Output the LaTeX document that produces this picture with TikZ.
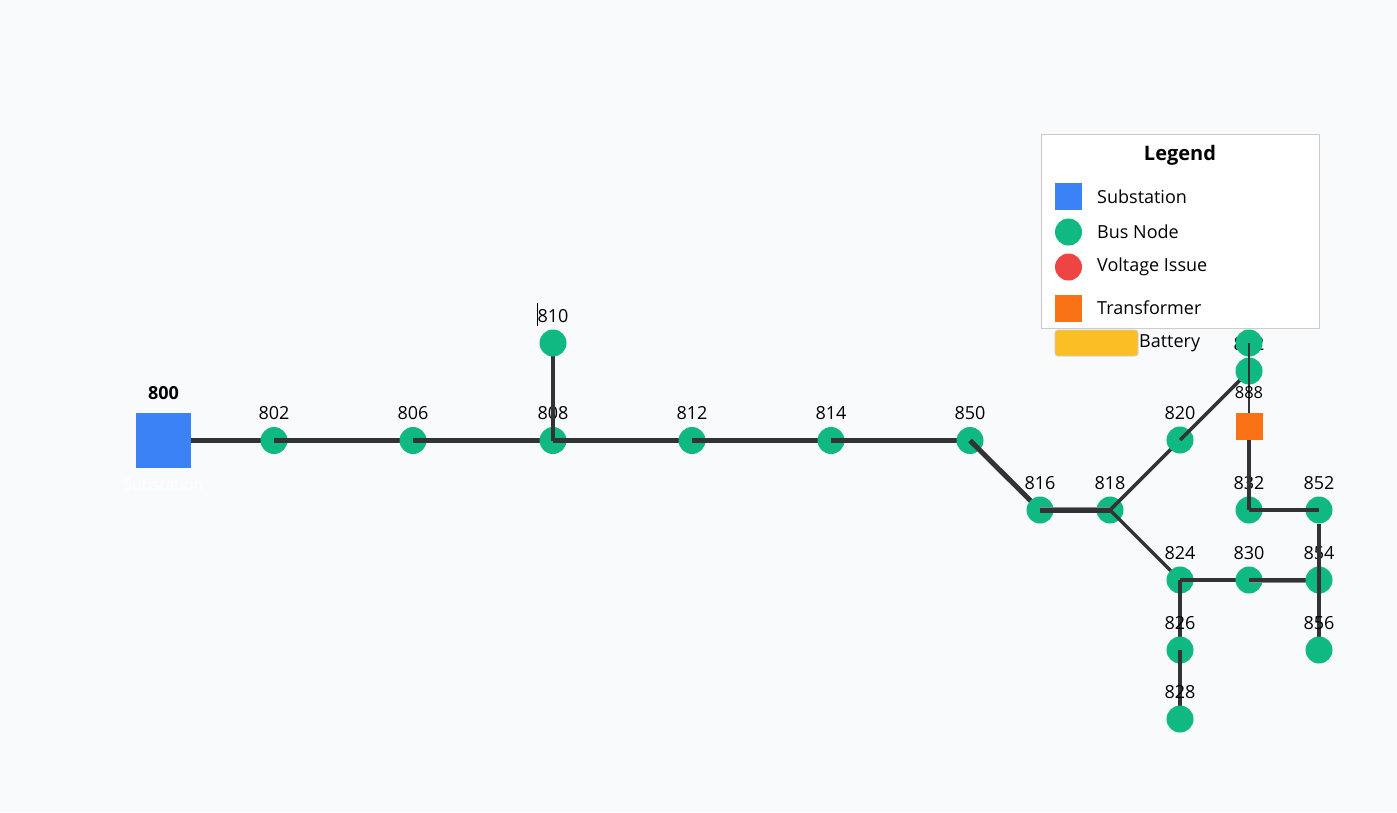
\documentclass[tikz,border=0pt]{standalone}
\usepackage{fontspec}
\setmainfont{Open Sans}
\definecolor{bg}{HTML}{F8FAFC}
\definecolor{subblue}{HTML}{3B82F6}
\definecolor{busgreen}{HTML}{10B981}
\definecolor{issuered}{HTML}{EF4444}
\definecolor{xfmrorange}{HTML}{F97316}
\definecolor{battyellow}{HTML}{FBBF24}
\definecolor{linedark}{HTML}{333333}
\definecolor{shadowgray}{HTML}{8A8A8A}
\definecolor{legborder}{HTML}{CCCCCC}
\tikzset{
  bus/.style={circle, fill=busgreen, minimum size=27pt, inner sep=0pt},
  sqnode/.style={rectangle, inner sep=0pt, minimum size=#1},
  lbl/.style={font=\fontsize{18}{18}\selectfont, text=black, inner sep=0pt},
  leglbl/.style={font=\fontsize{18}{18}\selectfont, text=black, inner sep=0pt, anchor=west},
  edge/.style={draw=linedark, line width=3.5pt},
  mainedge/.style={draw=linedark, line width=5pt},
  thinedge/.style={draw=linedark, line width=2.5pt},
  shadowedge/.style={draw=shadowgray, line width=6.5pt},
}
\begin{document}
\begin{tikzpicture}[x=1pt,y=-1pt]
\fill[bg] (0,0) rectangle (1397,812);
\useasboundingbox (0,0) rectangle (1397,812);

% ---------- legend ----------
\node[draw=legborder, fill=white, line width=1pt, minimum width=278pt, minimum height=194pt, inner sep=0pt, anchor=north west] (legend) at (1041,134) {};
\node[font=\bfseries\fontsize{20}{20}\selectfont, inner sep=0pt] (legtitle) at (1180,155) {Legend};
\node[sqnode=27pt, fill=subblue] (lsub) at (1068.5,196.5) {};
\node[leglbl] (lsubt) at (1097,197) {Substation};
\node[bus] (lbus) at (1068.5,232) {};
\node[leglbl] (lbust) at (1097,232) {Bus Node};
\node[circle, fill=issuered, minimum size=27pt, inner sep=0pt] (liss) at (1068.5,267) {};
\node[leglbl] (lisst) at (1097,267) {Voltage Issue};
\node[sqnode=27pt, fill=xfmrorange] (lxf) at (1068.5,308) {};
\node[leglbl] (lxft) at (1097,308) {Transformer};
\node[rectangle, rounded corners=3pt, draw=legborder, line width=0.8pt, fill=battyellow, minimum width=83pt, minimum height=26pt, inner sep=0pt] (lbat) at (1096.5,343) {};
\node[leglbl] (lbatt) at (1139,343) {Battery};

% ---------- network ----------
\node[sqnode=55pt, fill=subblue] (n800) at (163.5,440.5) {};
\node[font=\bfseries\fontsize{18}{18}\selectfont, inner sep=0pt] (l800) at (163.5,393) {800};
\node[font=\fontsize{16}{16}\selectfont, text=white, inner sep=0pt] (s800) at (163.5,484) {Substation};

\draw[mainedge] (n800.east) -- (274,440.5) coordinate (c802);
\node[bus] (n802) at (c802) {};
\node[lbl] at (274,413) {802};
\draw[mainedge] (n802.center) -- (413,440.5) coordinate (c806);
\node[bus] (n806) at (c806) {};
\node[lbl] at (413,413) {806};
\draw[mainedge] (n806.center) -- (553,440.5) coordinate (c808);
\node[bus] (n808) at (c808) {};
\node[lbl] at (553,413) {808};
\coordinate (c810) at (553,343);
\coordinate (c812) at (692,440.5);
\draw[edge] (n808.center) -- (c810);
\draw[mainedge] (n808.center) -- (c812);
\node[bus] (n810) at (c810) {};
\node[lbl] (l810) at (553,316) {810};
\coordinate (cur1) at (537,303);
\coordinate (cur2) at (537,326);
\draw[line width=1pt, black] (cur1) -- (cur2);
\node[bus] (n812) at (c812) {};
\node[lbl] at (692,413) {812};
\draw[mainedge] (n812.center) -- (831,440.5) coordinate (c814);
\node[bus] (n814) at (c814) {};
\node[lbl] at (831,413) {814};
\draw[mainedge] (n814.center) -- (970,440.5) coordinate (c850);
\node[bus] (n850) at (c850) {};
\node[lbl] at (970,413) {850};
\draw[mainedge] (n850.center) -- (1040,510) coordinate (c816);
\node[bus] (n816) at (c816) {};
\node[lbl] at (1040,483) {816};
\node[bus] (n818) at (1110,510) {};
\node[lbl] at (1110,483) {818};
\draw[shadowedge] (n816.center) -- (n818.center);
\draw[mainedge] (n816.center) -- (n818.center);
\coordinate (c820) at (1180,440);
\coordinate (c824) at (1180,580);
\draw[edge] (n818.center) -- (c820);
\draw[edge] (n818.center) -- (c824);
\node[bus] (n820) at (c820) {};
\node[lbl] at (1180,413) {820};
\draw[edge] (n820.center) -- (1249,371) coordinate (c822);
\node[bus] (n824) at (c824) {};
\node[lbl] at (1180,553) {824};
\coordinate (c830) at (1249,580);
\coordinate (c826) at (1180,650);
\draw[edge] (n824.center) -- (c830);
\draw[edge] (n824.center) -- (c826);
\node[bus] (n830) at (c830) {};
\node[lbl] at (1249,553) {830};
\draw[shadowedge, line width=5pt] (n830.center) -- (1306,580) coordinate (c854w);
\draw[edge] (n830.center) -- (c854w);
\node[bus] (n826) at (c826) {};
\node[lbl] at (1180,623) {826};
\draw[edge] (n826.center) -- (1180,719) coordinate (c828);
\node[bus] (n828) at (c828) {};
\node[lbl] at (1180,692) {828};

% 822 / 890 / 888 / 832 column
\node[lbl] (l822) at (1249,344) {822};
\node[bus] (n822) at (c822) {};
\node[bus] (n890) at (1249,343) {};
\node[bus] (n832) at (1249,510) {};
\node[lbl] at (1249,483) {832};
\node[sqnode=27pt, fill=xfmrorange] (n888) at (1249,426.5) {};
\draw[thinedge] (n890.center) -- (n888.north);
\draw[edge] (n888.south) -- (n832.center);
\node[font=\fontsize{16.5}{16.5}\selectfont, inner sep=0pt] (l888) at (1249,393) {888};

% 852 / 854 / 856
\node[bus] (n854) at (1319,580) {};
\node[lbl] at (1319,553) {854};
\node[bus] (n852) at (1319,510) {};
\node[lbl] at (1319,483) {852};
\draw[edge] (n852.south) -- (1319,650) coordinate (c856);
\node[bus] (n856) at (c856) {};
\node[lbl] at (1319,623) {856};
\draw[edge] (n832.center) -- (n852.center);
\end{tikzpicture}
\end{document}
